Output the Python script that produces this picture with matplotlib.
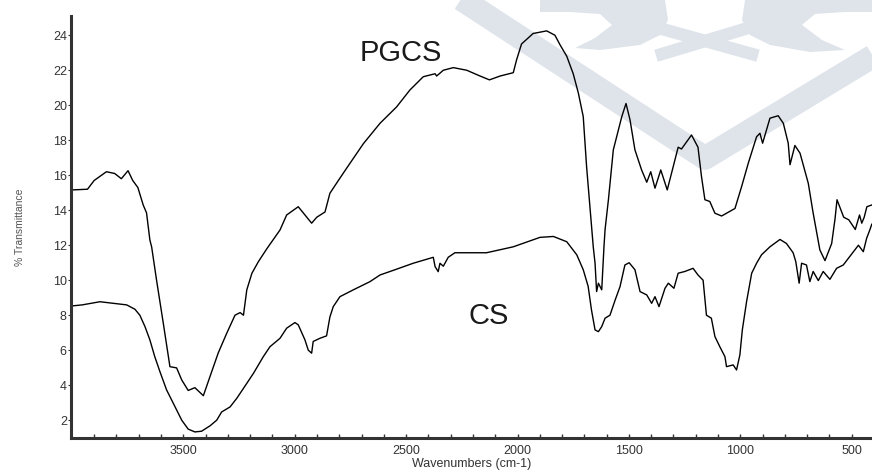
import matplotlib
matplotlib.use("Agg")
import matplotlib.pyplot as plt
from matplotlib.lines import Line2D
from matplotlib.patches import Polygon
import numpy as np

plt.rcParams['font.family'] = ['Liberation Sans', 'DejaVu Sans']

# ---- data ----
pgcs_wn = [4000, 3930, 3900, 3845, 3808, 3778, 3748, 3727, 3704, 3680, 3665, 3650, 3642, 3620, 3590,
           3560, 3530, 3507, 3478, 3448, 3410, 3380, 3343, 3305, 3268, 3245, 3230, 3215, 3192, 3163,
           3125, 3066, 3036, 2984, 2924, 2901, 2864, 2842, 2804, 2767, 2692, 2617, 2543, 2483, 2423,
           2370, 2363, 2333, 2288, 2228, 2168, 2126, 2078, 2019, 2004, 1982, 1930, 1869, 1832, 1809,
           1779, 1750, 1727, 1705, 1690, 1675, 1660, 1652, 1645, 1637, 1622, 1612, 1607, 1592, 1570,
           1532, 1513, 1495, 1473, 1443, 1420, 1402, 1383, 1357, 1328, 1301, 1279, 1264, 1219, 1190,
           1174, 1159, 1137, 1114, 1084, 1024, 994, 964, 927, 912, 900, 867, 830, 807, 785,
           777, 755, 732, 695, 673, 643, 620, 590, 575, 566, 536, 513, 484, 465, 455,
           444, 432, 410]
pgcs_t = [15.16, 15.2, 15.7, 16.2, 16.1, 15.8, 16.26, 15.7, 15.3, 14.3, 13.85, 12.3, 11.9, 10.0, 7.56,
          5.06, 4.99, 4.3, 3.7, 3.86, 3.4, 4.5, 5.85, 6.97, 8.0, 8.15, 8.0, 9.45, 10.4, 11.06,
          11.8, 12.87, 13.73, 14.2, 13.26, 13.6, 13.9, 14.97, 15.7, 16.4, 17.8, 18.97, 19.9, 20.87, 21.63,
          21.8, 21.67, 22.0, 22.15, 22.0, 21.67, 21.45, 21.67, 21.86, 22.6, 23.5, 24.1, 24.25, 24.0, 23.45,
          22.8, 21.8, 20.7, 19.35, 16.5, 14.2, 11.9, 10.97, 9.35, 9.83, 9.45, 11.9, 12.9, 14.6, 17.45,
          19.35, 20.1, 19.16, 17.45, 16.3, 15.6, 16.2, 15.26, 16.3, 15.16, 16.5, 17.6, 17.5, 18.3, 17.6,
          15.9, 14.6, 14.5, 13.83, 13.67, 14.1, 15.36, 16.7, 18.2, 18.4, 17.83, 19.26, 19.4, 18.97, 17.83,
          16.6, 17.7, 17.26, 15.54, 13.83, 11.73, 11.12, 12.1, 13.5, 14.6, 13.6, 13.45, 12.9, 13.73, 13.26,
          13.6, 14.2, 14.3]

cs_wn = [4000, 3954, 3874, 3814, 3754, 3717, 3695, 3672, 3650, 3628, 3605, 3575, 3545, 3507, 3478,
         3448, 3418, 3380, 3350, 3328, 3290, 3260, 3230, 3185, 3141, 3111, 3066, 3036, 2999, 2984,
         2954, 2939, 2924, 2917, 2887, 2857, 2842, 2827, 2797, 2737, 2662, 2617, 2543, 2468, 2378,
         2370, 2356, 2348, 2333, 2311, 2281, 2139, 2019, 1899, 1839, 1779, 1734, 1705, 1683, 1668,
         1652, 1637, 1622, 1607, 1585, 1562, 1540, 1518, 1499, 1473, 1450, 1420, 1398, 1383, 1365,
         1338, 1323, 1298, 1279, 1249, 1212, 1190, 1167, 1152, 1130, 1114, 1092, 1069, 1062, 1032,
         1017, 1002, 991, 972, 949, 927, 905, 867, 822, 793, 763, 751, 736, 725, 703,
         688, 673, 650, 628, 598, 568, 538, 500, 470, 448, 433, 418, 410]
cs_t = [8.53, 8.59, 8.77, 8.68, 8.59, 8.34, 8.0, 7.35, 6.59, 5.63, 4.78, 3.73, 2.97, 2.0, 1.49,
        1.33, 1.37, 1.68, 2.0, 2.47, 2.76, 3.25, 3.82, 4.68, 5.63, 6.2, 6.68, 7.26, 7.58, 7.45,
        6.59, 6.0, 5.83, 6.5, 6.68, 6.82, 7.9, 8.49, 9.06, 9.45, 9.92, 10.3, 10.63, 10.97, 11.31,
        10.78, 10.49, 10.97, 10.8, 11.31, 11.57, 11.57, 11.91, 12.45, 12.5, 12.2, 11.45, 10.6, 9.65, 8.3,
        7.16, 7.06, 7.35, 7.83, 8.0, 8.86, 9.63, 10.87, 11.0, 10.6, 9.35, 9.16, 8.68, 9.06, 8.49,
        9.54, 9.83, 9.54, 10.4, 10.5, 10.68, 10.3, 10.0, 8.0, 7.83, 6.78, 6.2, 5.63, 5.06, 5.16,
        4.87, 5.73, 7.16, 8.77, 10.4, 10.97, 11.45, 11.91, 12.33, 12.1, 11.57, 11.06, 9.83, 10.97, 10.87,
        9.92, 10.5, 9.98, 10.5, 10.05, 10.68, 10.87, 11.5, 12.0, 11.63, 12.4, 12.9, 13.2]

x_ticks = [3500, 3000, 2500, 2000, 1500, 1000, 500]
y_ticks = [2, 4, 6, 8, 10, 12, 14, 16, 18, 20, 22, 24]
labels = ["PGCS", "CS"]

W, H = 872, 470
fig = plt.figure(figsize=(W / 100, H / 100), dpi=100)
fig.patch.set_facecolor("white")

# faint background watermark (image pixel coords, converted to display coords)
wm = "#dfe4eb"
def P(pts):
    return [(x, H - y) for x, y in pts]
vx, vy = zip(*P([(455, -5), (705, 158), (880, 52)]))
fig.lines.append(Line2D(vx, vy, transform=None, color=wm, lw=17, solid_capstyle='butt', zorder=0))
fig.lines.append(Line2D(*zip(*P([(655, 27), (752, 54)])), transform=None, color=wm, lw=9, zorder=0))
fig.lines.append(Line2D(*zip(*P([(662, 54), (748, 28)])), transform=None, color=wm, lw=9, zorder=0))
left_wing = [(540, 0), (665, 0), (668, 20), (660, 35), (640, 45), (600, 50), (575, 48), (595, 38),
             (612, 25), (600, 14), (570, 12), (540, 12)]
right_wing = [(872, 0), (745, 0), (742, 20), (750, 35), (770, 45), (810, 52), (845, 50), (822, 40),
              (802, 25), (815, 14), (845, 12), (872, 12)]
for poly in (left_wing, right_wing):
    fig.patches.append(Polygon(P(poly), closed=True, transform=None, color=wm, lw=0, zorder=0))

ax = fig.add_axes([71 / W, 1 - 437.7 / H, (W - 71) / W, (437.7 - 16) / H])
ax.set_zorder(2)
ax.set_facecolor("none")

ax.plot(pgcs_wn, pgcs_t, color="black", lw=1.0)
ax.plot(cs_wn, cs_t, color="black", lw=1.0)

ax.set_xlim(4004, 409)
ax.set_ylim(1.0, 25.1)

ax.set_xticks(x_ticks)
ax.set_xticks(np.arange(500, 4000, 100), minor=True)
ax.set_yticks(y_ticks)

for s in ["top", "right"]:
    ax.spines[s].set_visible(False)
for s in ["left", "bottom"]:
    ax.spines[s].set_linewidth(2.2)
    ax.spines[s].set_color("#333333")

ax.tick_params(axis="x", which="both", direction="in", length=3, width=1, colors="#333333",
               labelsize=9, pad=5)
ax.tick_params(axis="y", which="major", direction="out", length=2, width=0.8, colors="#333333",
               labelsize=9, pad=1)

ax.set_xlabel("Wavenumbers (cm-1)", fontsize=9, color="#333333")
ax.xaxis.set_label_coords(0.5, -0.048)
ax.set_ylabel("% Transmittance", fontsize=7.5, color="#555555")
ax.yaxis.set_label_coords(-0.058, 0.5)

ax.text(2523, 22.99, labels[0], fontsize=21, ha="center", va="center", color="#1a1a1a")
ax.text(2128, 7.93, labels[1], fontsize=21, ha="center", va="center", color="#1a1a1a")

fig.savefig("out.png", dpi=100)
